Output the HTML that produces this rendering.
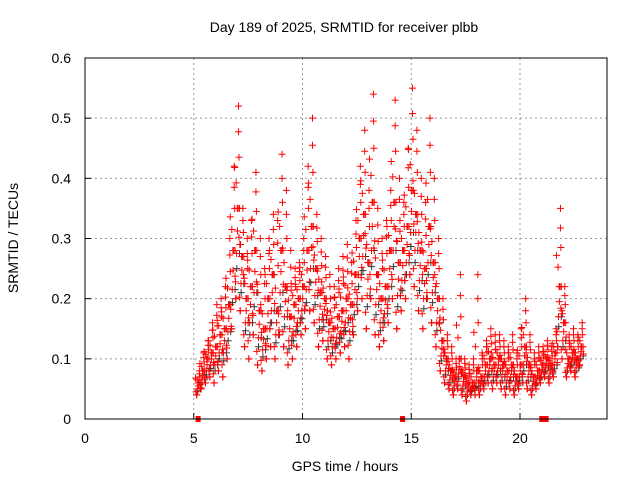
<!DOCTYPE html>
<html><head><meta charset="utf-8"><style>
body{margin:0;background:#fff;}
svg text{font-family:"Liberation Sans",sans-serif;font-size:14px;fill:#000;}
</style></head><body>
<svg id="chart" width="640" height="480" xmlns="http://www.w3.org/2000/svg">
<text x="344" y="32" text-anchor="middle">Day 189 of 2025, SRMTID for receiver plbb</text>
<text x="345" y="471" text-anchor="middle">GPS time / hours</text>
<text transform="translate(18,238) rotate(-90)" text-anchor="middle">SRMTID / TECUs</text>
<g id="grid"></g><g id="ticks"></g><g id="marks"></g>
<rect x="85" y="58" width="522" height="361" fill="none" stroke="#000" stroke-width="1"/>
</svg>
<script>
const xTicks=[0,5,10,15,20];
const yTicks=[0,0.1,0.2,0.3,0.4,0.5,0.6];
const yTickLabels=["0","0.1","0.2","0.3","0.4","0.5","0.6"];
const hours=[5.2,5.4,5.6,5.8,6.0,6.2,6.4,6.6,6.8,7.0,7.2,7.4,7.6,7.8,8.0,8.2,8.4,8.6,8.8,9.0,9.2,9.4,9.6,9.8,10.0,10.2,10.4,10.6,10.8,11.0,11.2,11.4,11.6,11.8,12.0,12.2,12.4,12.6,12.8,13.0,13.2,13.4,13.6,13.8,14.0,14.2,14.4,14.6,14.8,15.0,15.2,15.4,15.6,15.8,16.0,16.2,16.4,16.6,16.8,17.0,17.2,17.4,17.6,17.8,18.0,18.2,18.4,18.6,18.8,19.0,19.2,19.4,19.6,19.8,20.0,20.2,20.4,20.6,20.8,21.0,21.2,21.4,21.6,21.8,22.0,22.2,22.4,22.6,22.8];
const lowVals=[.04,.05,.06,.07,.06,.08,.07,.10,.15,.20,.18,.12,.10,.14,.09,.08,.10,.12,.10,.14,.12,.09,.10,.12,.14,.15,.18,.16,.12,.13,.10,.09,.10,.11,.12,.10,.14,.18,.20,.15,.20,.14,.12,.13,.16,.20,.15,.18,.20,.24,.22,.18,.15,.20,.16,.12,.08,.06,.05,.04,.05,.04,.03,.04,.04,.04,.05,.06,.05,.06,.05,.04,.05,.04,.05,.06,.05,.04,.05,.06,.07,.06,.07,.12,.10,.07,.08,.07,.09];
const midVals=[.06,.08,.10,.11,.12,.14,.15,.19,.28,.35,.27,.20,.22,.28,.18,.15,.20,.24,.18,.28,.22,.17,.19,.20,.22,.28,.32,.25,.21,.20,.16,.15,.17,.18,.20,.19,.24,.30,.34,.26,.36,.24,.20,.22,.28,.36,.26,.28,.32,.38,.34,.28,.25,.32,.26,.20,.13,.10,.08,.07,.10,.07,.06,.06,.08,.07,.09,.10,.09,.10,.09,.08,.09,.07,.09,.12,.09,.07,.08,.09,.10,.09,.11,.22,.16,.10,.11,.10,.12];
const highVals=[.08,.11,.13,.16,.19,.20,.22,.30,.42,.52,.35,.30,.33,.41,.30,.25,.30,.34,.33,.44,.38,.28,.25,.26,.30,.42,.50,.34,.30,.27,.24,.22,.25,.27,.29,.26,.33,.42,.48,.38,.54,.35,.30,.33,.38,.53,.40,.36,.45,.55,.48,.40,.36,.50,.40,.30,.20,.14,.12,.10,.24,.10,.09,.10,.24,.11,.13,.15,.14,.14,.13,.12,.14,.11,.15,.20,.14,.11,.12,.12,.13,.12,.15,.35,.22,.14,.15,.14,.16];
const gapMarks=[5.2,14.6,21.0,21.1,21.2];
const X0=85,X1=607,Y0=419,Y1=58;
const xs=h=>X0+h/24*(X1-X0);
const ys=v=>Y0-v/0.6*(Y0-Y1);
const NS="http://www.w3.org/2000/svg";
function mk(tag,attrs,parent){const e=document.createElementNS(NS,tag);for(const k in attrs)e.setAttribute(k,attrs[k]);document.getElementById(parent).appendChild(e);return e;}
xTicks.forEach(t=>{
 const x=xs(t);
 if(t>0){const g=mk('line',{x1:x,y1:Y1,x2:x,y2:Y0,stroke:'#999','stroke-dasharray':'2,3'},'grid');
 
 }
 const l=mk('line',{x1:x,y1:Y0,x2:x,y2:Y0-6,stroke:'#000'},'ticks');
 
 
 const tx=mk('text',{x:x,y:Y0+24,'text-anchor':'middle'},'ticks');tx.textContent=t;
 
 
});
yTicks.forEach((t,i)=>{
 const y=ys(t);
 if(t>0&&t<0.6){const g=mk('line',{x1:X0,y1:y,x2:X1,y2:y,stroke:'#999','stroke-dasharray':'2,3'},'grid');
 
 }
 const l=mk('line',{x1:X0,y1:y,x2:X0+6,y2:y,stroke:'#000'},'ticks');
 
 
 const tx=mk('text',{x:X0-14,y:y+5,'text-anchor':'end'},'ticks');tx.textContent=yTickLabels[i];
 
 
});
function plus(h,v,col){
 const x=xs(h),y=ys(v);
 const p=mk('path',{d:`M${x-3.5},${y}H${x+3.5}M${x},${y-3.5}V${y+3.5}`,stroke:col,'stroke-width':1,fill:'none'},'marks');
 
 
}
// spread of each interval between its low/mid/high readings
const spread=[[0,0,-0.07],[0.5,0,-0.03],[1,0,0.04],[0.5,1,0.08],[0,1,0.1],[0.25,0,-0.1],[0.75,0,0.01],[0.25,1,-0.05],[0.75,1,0.06],[0.4,1,-0.12],[0.6,0,0.12]];
hours.forEach((h,i)=>{
 plus(h+0.1,(lowVals[i]+midVals[i])/2,'#333');
 plus(h-0.02,(lowVals[i]*2+midVals[i])/3,'#333');
 plus(h-0.06,lowVals[i],'red');
 plus(h,midVals[i],'red');
 plus(h+0.06,highVals[i],'red');
 spread.forEach(s=>{
  const a=s[1]?midVals[i]:lowVals[i], b=s[1]?highVals[i]:midVals[i];
  plus(h+s[2],a+(b-a)*s[0],'red');
 });
});
gapMarks.forEach(h=>{
 const r=mk('rect',{x:xs(h)-2.5,y:Y0-3,width:5,height:6,fill:'red'},'marks');
 
 
});
</script>
</body></html>
